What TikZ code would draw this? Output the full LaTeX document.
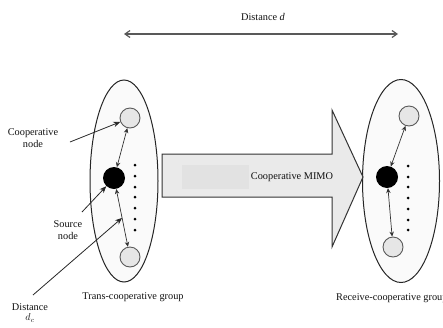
\documentclass[tikz,border=0pt]{standalone}
\usepackage{fontspec}
\setmainfont{Liberation Serif}
\usetikzlibrary{arrows.meta,shapes.geometric}
\definecolor{grpfill}{HTML}{FAFAFA}
\definecolor{nodefill}{HTML}{E6E6E6}
\definecolor{arrfill}{HTML}{EAEAEA}
\definecolor{arrinner}{HTML}{E2E2E2}
\definecolor{txt}{HTML}{111111}
\tikzset{
  grp/.style={draw=black!85, line width=1pt, fill=grpfill, ellipse, inner sep=0pt},
  coop/.style={circle, draw=black!65, line width=0.9pt, fill=nodefill, minimum size=20pt, inner sep=0pt},
  src/.style={circle, fill=black, minimum size=22pt, inner sep=0pt},
  dotm/.style={circle, fill=black, minimum size=3pt, inner sep=0pt},
  link/.style={draw=black!80, line width=0.7pt, {Stealth[length=5pt,width=4.5pt]}-{Stealth[length=5pt,width=4.5pt]}},
  pointer/.style={draw=black!85, line width=0.8pt, -{Stealth[length=7pt,width=5.5pt]}},
  lbl/.style={text=txt, font=\fontsize{10.3}{11.5}\selectfont, inner sep=1pt, align=center}
}
\begin{document}
\begin{tikzpicture}[x=1pt,y=-1pt]
\useasboundingbox (0,0) rectangle (443,327);
\clip (0,0) rectangle (443,327);
% distance d
\node[lbl] (dlab) at (263,17) {Distance \textit{d}};
\coordinate (dl) at (124,34);
\coordinate (dr) at (398,34);
\draw[draw=black!65, line width=1.2pt, {Straight Barb[length=5pt,width=7pt]}-{Straight Barb[length=5pt,width=7pt]}] (dl) -- (dr);
% groups
\node[grp, minimum width=68pt, minimum height=202pt] (g1) at (124,181) {};
\node[grp, minimum width=77pt, minimum height=203pt] (g2) at (401,181) {};
% big arrow
\draw[draw=black!80, line width=1pt, fill=arrfill]
  (162,154) -- (332,154) -- (332,110) -- (363,177) -- (332,247) -- (332,197) -- (162,197) -- cycle;
\fill[arrinner] (182,165) rectangle (249,189);
\node[lbl] (mimo) at (292,177) {Cooperative MIMO};
% left nodes
\node[coop] (t1) at (130,118) {};
\node[src] (s1) at (114,178) {};
\node[coop] (b1) at (130,257) {};
\foreach \y in {165,176,187,197,208,219,230} \node[dotm] at (135,\y) {};
\draw[link] (t1) -- (s1);
\draw[link] (s1) -- (b1) coordinate[pos=0.5] (mid1);
% right nodes
\node[coop] (t2) at (409,116) {};
\node[src] (s2) at (387,177) {};
\node[coop] (b2) at (393,247) {};
\foreach \y in {166,177,187,198,209,220,230} \node[dotm] at (408,\y) {};
\draw[link] (t2) -- (s2);
\draw[link] (s2) -- (b2);
% labels and pointers
\node[lbl] (coopl) at (33,138) {Cooperative\\node};
\draw[pointer] (70,142) -- (t1);
\node[lbl] (srcl) at (68,230) {Source\\node};
\draw[pointer] (82,212) -- (s1);
\node[lbl] (distl) at (30,313) {Distance\\[-1pt]$d_c$};
\draw[pointer] (33,295) -- (mid1);
\node[lbl] (tg) at (133,297) {Trans-cooperative group};
\node[lbl, anchor=west] (rg) at (335,298) {Receive-cooperative group};
\end{tikzpicture}
\end{document}
